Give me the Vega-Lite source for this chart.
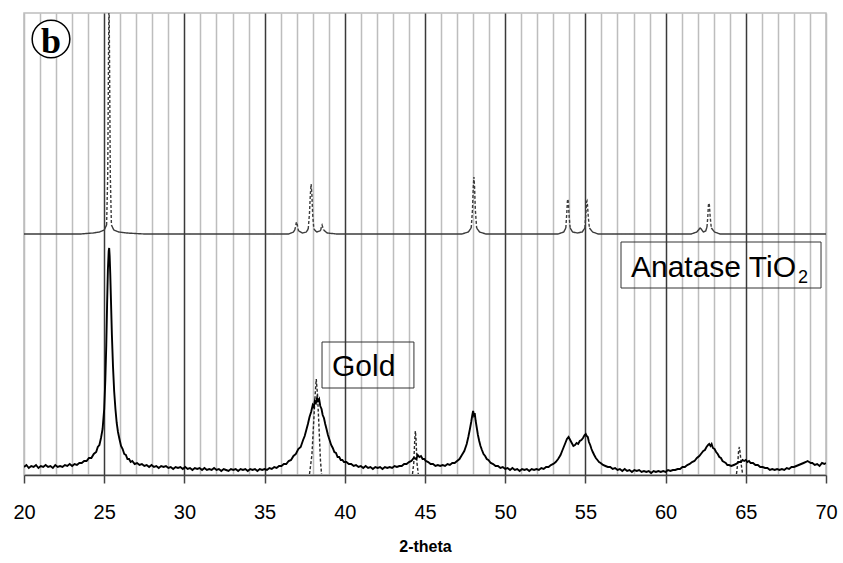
{
  "$schema": "https://vega.github.io/schema/vega-lite/v6.json",
  "width": 802,
  "height": 462,
  "autosize": {"type": "none"},
  "padding": {"left": 24, "top": 13, "right": 17, "bottom": 88},
  "background": "white",
  "config": {
    "view": {"stroke": "#bdbdbd", "strokeWidth": 1.5},
    "font": "Liberation Sans"
  },
  "datasets": {
    "sample": [
      {"t":20.0,"i":8},{"t":20.15,"i":10},{"t":20.3,"i":7},{"t":20.45,"i":9},{"t":20.6,"i":8},{"t":20.75,"i":10},{"t":20.9,"i":7},{"t":21.05,"i":9},{"t":21.2,"i":8},{"t":21.35,"i":10},{"t":21.5,"i":8},{"t":21.65,"i":9},{"t":21.8,"i":7},{"t":21.95,"i":10},{"t":22.1,"i":8},{"t":22.25,"i":9},{"t":22.4,"i":8},{"t":22.55,"i":10},{"t":22.7,"i":9},{"t":22.85,"i":11},{"t":23.0,"i":9},{"t":23.15,"i":11},{"t":23.3,"i":10},{"t":23.45,"i":12},{"t":23.6,"i":12},{"t":23.75,"i":14},{"t":23.9,"i":14},{"t":24.05,"i":17},{"t":24.2,"i":17},{"t":24.35,"i":21},{"t":24.5,"i":23},{"t":24.6,"i":28},{"t":24.7,"i":30},{"t":24.8,"i":37},{"t":24.9,"i":46},{"t":25.0,"i":66},{"t":25.07,"i":95},{"t":25.13,"i":130},{"t":25.18,"i":170},{"t":25.23,"i":205},{"t":25.28,"i":224},{"t":25.31,"i":227},{"t":25.34,"i":219},{"t":25.38,"i":200},{"t":25.43,"i":170},{"t":25.48,"i":140},{"t":25.55,"i":108},{"t":25.62,"i":84},{"t":25.7,"i":66},{"t":25.78,"i":52},{"t":25.86,"i":43},{"t":25.95,"i":36},{"t":26.05,"i":29},{"t":26.15,"i":26},{"t":26.25,"i":21},{"t":26.35,"i":20},{"t":26.45,"i":16},{"t":26.55,"i":16},{"t":26.65,"i":13},{"t":26.75,"i":14},{"t":26.9,"i":11},{"t":27.05,"i":12},{"t":27.2,"i":10},{"t":27.35,"i":11},{"t":27.5,"i":9},{"t":27.65,"i":10},{"t":27.8,"i":8},{"t":27.95,"i":10},{"t":28.1,"i":8},{"t":28.25,"i":9},{"t":28.4,"i":7},{"t":28.55,"i":9},{"t":28.7,"i":8},{"t":28.85,"i":9},{"t":29.0,"i":7},{"t":29.15,"i":8},{"t":29.3,"i":6},{"t":29.45,"i":8},{"t":29.6,"i":7},{"t":29.75,"i":8},{"t":29.9,"i":6},{"t":30.05,"i":8},{"t":30.2,"i":6},{"t":30.35,"i":7},{"t":30.5,"i":5},{"t":30.65,"i":7},{"t":30.8,"i":6},{"t":30.95,"i":7},{"t":31.1,"i":5},{"t":31.25,"i":7},{"t":31.4,"i":5},{"t":31.55,"i":6},{"t":31.7,"i":5},{"t":31.85,"i":7},{"t":32.0,"i":5},{"t":32.15,"i":6},{"t":32.3,"i":4},{"t":32.45,"i":6},{"t":32.6,"i":5},{"t":32.75,"i":4},{"t":32.9,"i":6},{"t":33.05,"i":5},{"t":33.2,"i":6},{"t":33.35,"i":4},{"t":33.5,"i":6},{"t":33.65,"i":5},{"t":33.8,"i":6},{"t":33.95,"i":4},{"t":34.1,"i":6},{"t":34.25,"i":5},{"t":34.4,"i":6},{"t":34.55,"i":4},{"t":34.7,"i":6},{"t":34.85,"i":5},{"t":35.0,"i":6},{"t":35.15,"i":5},{"t":35.3,"i":7},{"t":35.45,"i":6},{"t":35.6,"i":8},{"t":35.75,"i":7},{"t":35.9,"i":9},{"t":36.05,"i":9},{"t":36.2,"i":11},{"t":36.35,"i":11},{"t":36.5,"i":14},{"t":36.65,"i":15},{"t":36.8,"i":19},{"t":36.95,"i":21},{"t":37.1,"i":26},{"t":37.25,"i":28},{"t":37.4,"i":35},{"t":37.5,"i":39},{"t":37.6,"i":45},{"t":37.7,"i":51},{"t":37.8,"i":58},{"t":37.9,"i":63},{"t":38.0,"i":70},{"t":38.07,"i":68},{"t":38.13,"i":74},{"t":38.2,"i":72},{"t":38.27,"i":77},{"t":38.33,"i":74},{"t":38.4,"i":76},{"t":38.47,"i":69},{"t":38.55,"i":66},{"t":38.62,"i":60},{"t":38.7,"i":57},{"t":38.78,"i":51},{"t":38.86,"i":46},{"t":38.95,"i":40},{"t":39.05,"i":35},{"t":39.15,"i":30},{"t":39.25,"i":27},{"t":39.35,"i":23},{"t":39.45,"i":22},{"t":39.55,"i":18},{"t":39.65,"i":18},{"t":39.75,"i":15},{"t":39.85,"i":15},{"t":39.95,"i":13},{"t":40.1,"i":13},{"t":40.25,"i":11},{"t":40.4,"i":11},{"t":40.55,"i":9},{"t":40.7,"i":10},{"t":40.85,"i":8},{"t":41.0,"i":9},{"t":41.15,"i":7},{"t":41.3,"i":9},{"t":41.45,"i":7},{"t":41.6,"i":8},{"t":41.75,"i":6},{"t":41.9,"i":8},{"t":42.05,"i":7},{"t":42.2,"i":8},{"t":42.35,"i":6},{"t":42.5,"i":8},{"t":42.65,"i":7},{"t":42.8,"i":8},{"t":42.95,"i":7},{"t":43.1,"i":9},{"t":43.25,"i":8},{"t":43.4,"i":9},{"t":43.55,"i":9},{"t":43.7,"i":11},{"t":43.85,"i":11},{"t":44.0,"i":13},{"t":44.15,"i":14},{"t":44.3,"i":17},{"t":44.45,"i":16},{"t":44.55,"i":20},{"t":44.65,"i":18},{"t":44.75,"i":19},{"t":44.85,"i":16},{"t":44.95,"i":16},{"t":45.05,"i":14},{"t":45.2,"i":13},{"t":45.35,"i":11},{"t":45.5,"i":11},{"t":45.65,"i":9},{"t":45.8,"i":10},{"t":45.95,"i":9},{"t":46.1,"i":10},{"t":46.25,"i":9},{"t":46.4,"i":11},{"t":46.55,"i":10},{"t":46.7,"i":12},{"t":46.85,"i":12},{"t":47.0,"i":14},{"t":47.15,"i":16},{"t":47.3,"i":20},{"t":47.45,"i":24},{"t":47.6,"i":31},{"t":47.7,"i":38},{"t":47.8,"i":46},{"t":47.88,"i":53},{"t":47.95,"i":60},{"t":48.0,"i":64},{"t":48.05,"i":60},{"t":48.1,"i":62},{"t":48.16,"i":54},{"t":48.23,"i":47},{"t":48.3,"i":40},{"t":48.38,"i":34},{"t":48.46,"i":29},{"t":48.55,"i":25},{"t":48.65,"i":21},{"t":48.75,"i":19},{"t":48.85,"i":16},{"t":48.95,"i":15},{"t":49.1,"i":12},{"t":49.25,"i":11},{"t":49.4,"i":9},{"t":49.55,"i":9},{"t":49.7,"i":7},{"t":49.85,"i":8},{"t":50.0,"i":6},{"t":50.15,"i":7},{"t":50.3,"i":5},{"t":50.45,"i":7},{"t":50.6,"i":5},{"t":50.75,"i":6},{"t":50.9,"i":4},{"t":51.05,"i":6},{"t":51.2,"i":5},{"t":51.35,"i":6},{"t":51.5,"i":4},{"t":51.65,"i":6},{"t":51.8,"i":5},{"t":51.95,"i":6},{"t":52.1,"i":5},{"t":52.25,"i":7},{"t":52.4,"i":6},{"t":52.55,"i":8},{"t":52.7,"i":8},{"t":52.85,"i":10},{"t":53.0,"i":11},{"t":53.15,"i":13},{"t":53.3,"i":16},{"t":53.45,"i":20},{"t":53.55,"i":24},{"t":53.65,"i":28},{"t":53.75,"i":32},{"t":53.85,"i":36},{"t":53.95,"i":38},{"t":54.05,"i":35},{"t":54.15,"i":32},{"t":54.25,"i":29},{"t":54.35,"i":30},{"t":54.45,"i":32},{"t":54.55,"i":31},{"t":54.65,"i":34},{"t":54.75,"i":35},{"t":54.85,"i":37},{"t":54.95,"i":40},{"t":55.02,"i":41},{"t":55.08,"i":39},{"t":55.15,"i":38},{"t":55.22,"i":33},{"t":55.3,"i":30},{"t":55.38,"i":26},{"t":55.46,"i":23},{"t":55.55,"i":20},{"t":55.65,"i":17},{"t":55.75,"i":15},{"t":55.85,"i":13},{"t":55.95,"i":12},{"t":56.1,"i":10},{"t":56.25,"i":9},{"t":56.4,"i":8},{"t":56.55,"i":8},{"t":56.7,"i":6},{"t":56.85,"i":7},{"t":57.0,"i":5},{"t":57.15,"i":6},{"t":57.3,"i":4},{"t":57.45,"i":6},{"t":57.6,"i":4},{"t":57.75,"i":5},{"t":57.9,"i":3},{"t":58.05,"i":5},{"t":58.2,"i":4},{"t":58.35,"i":5},{"t":58.5,"i":3},{"t":58.65,"i":4},{"t":58.8,"i":3},{"t":58.95,"i":4},{"t":59.1,"i":2},{"t":59.25,"i":4},{"t":59.4,"i":3},{"t":59.55,"i":4},{"t":59.7,"i":3},{"t":59.85,"i":4},{"t":60.0,"i":3},{"t":60.15,"i":5},{"t":60.3,"i":4},{"t":60.45,"i":5},{"t":60.6,"i":5},{"t":60.75,"i":6},{"t":60.9,"i":6},{"t":61.05,"i":8},{"t":61.2,"i":8},{"t":61.35,"i":10},{"t":61.5,"i":11},{"t":61.65,"i":13},{"t":61.8,"i":14},{"t":61.95,"i":17},{"t":62.1,"i":19},{"t":62.25,"i":22},{"t":62.35,"i":24},{"t":62.45,"i":25},{"t":62.55,"i":28},{"t":62.65,"i":30},{"t":62.72,"i":31},{"t":62.8,"i":29},{"t":62.87,"i":31},{"t":62.95,"i":27},{"t":63.05,"i":26},{"t":63.15,"i":23},{"t":63.25,"i":21},{"t":63.35,"i":18},{"t":63.45,"i":17},{"t":63.55,"i":14},{"t":63.65,"i":13},{"t":63.75,"i":12},{"t":63.85,"i":10},{"t":63.95,"i":10},{"t":64.1,"i":9},{"t":64.25,"i":10},{"t":64.4,"i":11},{"t":64.55,"i":13},{"t":64.7,"i":13},{"t":64.8,"i":15},{"t":64.9,"i":14},{"t":65.0,"i":15},{"t":65.1,"i":13},{"t":65.2,"i":14},{"t":65.3,"i":12},{"t":65.45,"i":12},{"t":65.6,"i":10},{"t":65.75,"i":10},{"t":65.9,"i":8},{"t":66.05,"i":8},{"t":66.2,"i":7},{"t":66.35,"i":7},{"t":66.5,"i":5},{"t":66.65,"i":6},{"t":66.8,"i":5},{"t":66.95,"i":6},{"t":67.1,"i":5},{"t":67.25,"i":6},{"t":67.4,"i":5},{"t":67.55,"i":7},{"t":67.7,"i":6},{"t":67.85,"i":8},{"t":68.0,"i":8},{"t":68.15,"i":9},{"t":68.3,"i":10},{"t":68.45,"i":11},{"t":68.6,"i":12},{"t":68.75,"i":13},{"t":68.85,"i":14},{"t":68.95,"i":13},{"t":69.05,"i":12},{"t":69.15,"i":12},{"t":69.3,"i":10},{"t":69.45,"i":11},{"t":69.6,"i":9},{"t":69.75,"i":12},{"t":69.9,"i":11},{"t":70.0,"i":12}
    ],
    "reference": [
      {"tr":"anatase","k":"solid","s":"A0","t":20,"i":241},{"tr":"anatase","k":"solid","s":"A0","t":23.5,"i":241},{"tr":"anatase","k":"solid","s":"A0","t":24.3,"i":242},{"tr":"anatase","k":"solid","s":"A0","t":24.7,"i":243},{"tr":"anatase","k":"solid","s":"A0","t":25.0,"i":245},{"tr":"anatase","k":"solid","s":"A0","t":25.15,"i":250},
      {"tr":"anatase","k":"dash","s":"A1","t":25.15,"i":250},{"tr":"anatase","k":"dash","s":"A1","t":25.22,"i":300},{"tr":"anatase","k":"dash","s":"A1","t":25.27,"i":420},{"tr":"anatase","k":"dash","s":"A1","t":25.3,"i":480},{"tr":"anatase","k":"dash","s":"A1","t":25.33,"i":420},{"tr":"anatase","k":"dash","s":"A1","t":25.38,"i":300},{"tr":"anatase","k":"dash","s":"A1","t":25.45,"i":250},
      {"tr":"anatase","k":"solid","s":"A2","t":25.45,"i":250},{"tr":"anatase","k":"solid","s":"A2","t":25.6,"i":245},{"tr":"anatase","k":"solid","s":"A2","t":25.9,"i":243},{"tr":"anatase","k":"solid","s":"A2","t":26.4,"i":242},{"tr":"anatase","k":"solid","s":"A2","t":27.5,"i":241},{"tr":"anatase","k":"solid","s":"A2","t":36.5,"i":241},{"tr":"anatase","k":"solid","s":"A2","t":36.8,"i":243},{"tr":"anatase","k":"solid","s":"A2","t":36.88,"i":245},
      {"tr":"anatase","k":"dash","s":"A3","t":36.88,"i":245},{"tr":"anatase","k":"dash","s":"A3","t":36.94,"i":249},{"tr":"anatase","k":"dash","s":"A3","t":36.97,"i":252},{"tr":"anatase","k":"dash","s":"A3","t":37.0,"i":253},{"tr":"anatase","k":"dash","s":"A3","t":37.03,"i":251},{"tr":"anatase","k":"dash","s":"A3","t":37.07,"i":247},{"tr":"anatase","k":"dash","s":"A3","t":37.12,"i":244},
      {"tr":"anatase","k":"solid","s":"A4","t":37.12,"i":244},{"tr":"anatase","k":"solid","s":"A4","t":37.35,"i":242},{"tr":"anatase","k":"solid","s":"A4","t":37.6,"i":243},{"tr":"anatase","k":"solid","s":"A4","t":37.72,"i":246},
      {"tr":"anatase","k":"dash","s":"A5","t":37.72,"i":246},{"tr":"anatase","k":"dash","s":"A5","t":37.8,"i":262},{"tr":"anatase","k":"dash","s":"A5","t":37.85,"i":280},{"tr":"anatase","k":"dash","s":"A5","t":37.9,"i":291},{"tr":"anatase","k":"dash","s":"A5","t":37.95,"i":280},{"tr":"anatase","k":"dash","s":"A5","t":38.0,"i":260},{"tr":"anatase","k":"dash","s":"A5","t":38.07,"i":246},
      {"tr":"anatase","k":"solid","s":"A6","t":38.07,"i":246},{"tr":"anatase","k":"solid","s":"A6","t":38.25,"i":243},{"tr":"anatase","k":"solid","s":"A6","t":38.45,"i":244},{"tr":"anatase","k":"solid","s":"A6","t":38.5,"i":245},
      {"tr":"anatase","k":"dash","s":"A7","t":38.5,"i":245},{"tr":"anatase","k":"dash","s":"A7","t":38.55,"i":249},{"tr":"anatase","k":"dash","s":"A7","t":38.58,"i":250},{"tr":"anatase","k":"dash","s":"A7","t":38.62,"i":248},{"tr":"anatase","k":"dash","s":"A7","t":38.68,"i":245},
      {"tr":"anatase","k":"solid","s":"A8","t":38.68,"i":245},{"tr":"anatase","k":"solid","s":"A8","t":38.9,"i":242},{"tr":"anatase","k":"solid","s":"A8","t":39.5,"i":241},{"tr":"anatase","k":"solid","s":"A8","t":47.3,"i":241},{"tr":"anatase","k":"solid","s":"A8","t":47.7,"i":243},{"tr":"anatase","k":"solid","s":"A8","t":47.88,"i":247},
      {"tr":"anatase","k":"dash","s":"A9","t":47.88,"i":247},{"tr":"anatase","k":"dash","s":"A9","t":47.96,"i":265},{"tr":"anatase","k":"dash","s":"A9","t":48.01,"i":288},{"tr":"anatase","k":"dash","s":"A9","t":48.05,"i":298},{"tr":"anatase","k":"dash","s":"A9","t":48.09,"i":288},{"tr":"anatase","k":"dash","s":"A9","t":48.14,"i":265},{"tr":"anatase","k":"dash","s":"A9","t":48.22,"i":247},
      {"tr":"anatase","k":"solid","s":"A10","t":48.22,"i":247},{"tr":"anatase","k":"solid","s":"A10","t":48.4,"i":243},{"tr":"anatase","k":"solid","s":"A10","t":48.8,"i":241},{"tr":"anatase","k":"solid","s":"A10","t":53.3,"i":241},{"tr":"anatase","k":"solid","s":"A10","t":53.65,"i":243},{"tr":"anatase","k":"solid","s":"A10","t":53.78,"i":247},
      {"tr":"anatase","k":"dash","s":"A11","t":53.78,"i":247},{"tr":"anatase","k":"dash","s":"A11","t":53.84,"i":262},{"tr":"anatase","k":"dash","s":"A11","t":53.88,"i":274},{"tr":"anatase","k":"dash","s":"A11","t":53.91,"i":276},{"tr":"anatase","k":"dash","s":"A11","t":53.94,"i":272},{"tr":"anatase","k":"dash","s":"A11","t":53.99,"i":258},{"tr":"anatase","k":"dash","s":"A11","t":54.05,"i":247},
      {"tr":"anatase","k":"solid","s":"A12","t":54.05,"i":247},{"tr":"anatase","k":"solid","s":"A12","t":54.2,"i":243},{"tr":"anatase","k":"solid","s":"A12","t":54.5,"i":242},{"tr":"anatase","k":"solid","s":"A12","t":54.8,"i":243},{"tr":"anatase","k":"solid","s":"A12","t":54.97,"i":247},
      {"tr":"anatase","k":"dash","s":"A13","t":54.97,"i":247},{"tr":"anatase","k":"dash","s":"A13","t":55.03,"i":262},{"tr":"anatase","k":"dash","s":"A13","t":55.07,"i":273},{"tr":"anatase","k":"dash","s":"A13","t":55.1,"i":274},{"tr":"anatase","k":"dash","s":"A13","t":55.13,"i":270},{"tr":"anatase","k":"dash","s":"A13","t":55.18,"i":258},{"tr":"anatase","k":"dash","s":"A13","t":55.25,"i":247},
      {"tr":"anatase","k":"solid","s":"A14","t":55.25,"i":247},{"tr":"anatase","k":"solid","s":"A14","t":55.45,"i":243},{"tr":"anatase","k":"solid","s":"A14","t":55.8,"i":241},{"tr":"anatase","k":"solid","s":"A14","t":61.6,"i":241},{"tr":"anatase","k":"solid","s":"A14","t":61.95,"i":243},{"tr":"anatase","k":"solid","s":"A14","t":62.1,"i":246},{"tr":"anatase","k":"solid","s":"A14","t":62.15,"i":247},{"tr":"anatase","k":"solid","s":"A14","t":62.22,"i":246},{"tr":"anatase","k":"solid","s":"A14","t":62.35,"i":243},{"tr":"anatase","k":"solid","s":"A14","t":62.5,"i":244},{"tr":"anatase","k":"solid","s":"A14","t":62.58,"i":248},
      {"tr":"anatase","k":"dash","s":"A15","t":62.58,"i":248},{"tr":"anatase","k":"dash","s":"A15","t":62.63,"i":258},{"tr":"anatase","k":"dash","s":"A15","t":62.67,"i":270},{"tr":"anatase","k":"dash","s":"A15","t":62.7,"i":272},{"tr":"anatase","k":"dash","s":"A15","t":62.73,"i":270},{"tr":"anatase","k":"dash","s":"A15","t":62.78,"i":258},{"tr":"anatase","k":"dash","s":"A15","t":62.85,"i":247},
      {"tr":"anatase","k":"solid","s":"A16","t":62.85,"i":247},{"tr":"anatase","k":"solid","s":"A16","t":63.05,"i":243},{"tr":"anatase","k":"solid","s":"A16","t":63.4,"i":241},{"tr":"anatase","k":"solid","s":"A16","t":70,"i":241},
      {"tr":"gold","k":"dash","s":"G1","t":37.8,"i":1},{"tr":"gold","k":"dash","s":"G1","t":37.95,"i":20},{"tr":"gold","k":"dash","s":"G1","t":38.05,"i":50},{"tr":"gold","k":"dash","s":"G1","t":38.15,"i":80},{"tr":"gold","k":"dash","s":"G1","t":38.22,"i":96},{"tr":"gold","k":"dash","s":"G1","t":38.3,"i":80},{"tr":"gold","k":"dash","s":"G1","t":38.4,"i":45},{"tr":"gold","k":"dash","s":"G1","t":38.48,"i":15},{"tr":"gold","k":"dash","s":"G1","t":38.55,"i":1},
      {"tr":"gold","k":"dash","s":"G2","t":44.22,"i":1},{"tr":"gold","k":"dash","s":"G2","t":44.3,"i":12},{"tr":"gold","k":"dash","s":"G2","t":44.36,"i":35},{"tr":"gold","k":"dash","s":"G2","t":44.4,"i":44},{"tr":"gold","k":"dash","s":"G2","t":44.44,"i":36},{"tr":"gold","k":"dash","s":"G2","t":44.5,"i":12},{"tr":"gold","k":"dash","s":"G2","t":44.58,"i":1},
      {"tr":"gold","k":"dash","s":"G3","t":64.42,"i":1},{"tr":"gold","k":"dash","s":"G3","t":64.5,"i":12},{"tr":"gold","k":"dash","s":"G3","t":64.55,"i":24},{"tr":"gold","k":"dash","s":"G3","t":64.6,"i":28},{"tr":"gold","k":"dash","s":"G3","t":64.65,"i":22},{"tr":"gold","k":"dash","s":"G3","t":64.72,"i":10},{"tr":"gold","k":"dash","s":"G3","t":64.8,"i":1}
    ]
  },
  "encoding": {
    "x": {
      "field": "t",
      "type": "quantitative",
      "scale": {"domain": [20, 70], "nice": false, "zero": false},
      "axis": {
        "title": "2-theta",
        "titleFont": "Liberation Sans",
        "titleFontSize": 16,
        "titleFontWeight": "bold",
        "titleColor": "#000",
        "titlePadding": 16,
        "values": [20,21,22,23,24,25,26,27,28,29,30,31,32,33,34,35,36,37,38,39,40,41,42,43,44,45,46,47,48,49,50,51,52,53,54,55,56,57,58,59,60,61,62,63,64,65,66,67,68,69,70],
        "labelExpr": "datum.value % 5 === 0 ? datum.label : ''",
        "labelFont": "Liberation Sans",
        "labelFontSize": 20,
        "labelColor": "#000",
        "labelPadding": 19,
        "labelOverlap": false,
        "labelFlush": false,
        "labelBound": false,
        "tickSize": 8,
        "tickColor": "#444",
        "tickWidth": 1.5,
        "tickOpacity": {"condition": {"test": "datum.value % 5 !== 0", "value": 0}, "value": 1},
        "grid": true,
        "gridColor": {"condition": {"test": "datum.value % 5 === 0 && datum.value > 20 && datum.value < 70", "value": "#3a3a3a"}, "value": "#bdbdbd"},
        "gridWidth": 1.5,
        "gridOpacity": 1,
        "domainColor": "#444",
        "domainWidth": 1.5
      }
    },
    "y": {
      "field": "i",
      "type": "quantitative",
      "scale": {"domain": [0, 462], "nice": false, "zero": false},
      "axis": null
    }
  },
  "layer": [
    {
      "data": {"values": [
        {"t": 38.58, "t2": 44.31, "i": 87, "i2": 133},
        {"t": 57.22, "t2": 69.69, "i": 187, "i2": 233}
      ]},
      "mark": {"type": "rect", "fill": null, "fillOpacity": 0, "stroke": "#333", "strokeWidth": 1},
      "encoding": {
        "x2": {"field": "t2"},
        "y2": {"field": "i2"}
      }
    },
    {
      "data": {"name": "reference"},
      "mark": {"type": "line", "clip": true, "strokeWidth": 1.4},
      "encoding": {
        "detail": {"field": "s"},
        "color": {"field": "tr", "type": "nominal", "scale": {"domain": ["anatase", "gold"], "range": ["#3c3c3c", "#2a2a2a"]}, "legend": null},
        "strokeDash": {"field": "k", "type": "nominal", "scale": {"domain": ["solid", "dash"], "range": [[1, 0], [3, 2]]}, "legend": null}
      }
    },
    {
      "data": {"name": "sample"},
      "mark": {"type": "line", "clip": true, "color": "#000", "strokeWidth": 1.9},
      "encoding": {}
    },
    {
      "data": {"values": [{"t": 21.683, "i": 436}]},
      "mark": {"type": "point", "shape": "circle", "size": 1420, "filled": true, "fill": "white", "stroke": "#000", "strokeWidth": 1.5, "opacity": 1}
    },
    {
      "data": {"values": [{"t": 21.683, "i": 422, "txt": "b"}]},
      "mark": {"type": "text", "font": "Liberation Serif", "fontWeight": "bold", "fontSize": 36, "align": "center", "baseline": "alphabetic", "color": "#000"},
      "encoding": {"text": {"field": "txt"}}
    },
    {
      "data": {"values": [
        {"t": 39.2, "i": 99, "txt": "Gold"},
        {"t": 57.84, "i": 198, "txt": "Anatase TiO"}
      ]},
      "mark": {"type": "text", "font": "Liberation Sans", "fontSize": 30, "align": "left", "baseline": "alphabetic", "color": "#000"},
      "encoding": {"text": {"field": "txt"}}
    },
    {
      "data": {"values": [{"t": 68.25, "i": 192, "txt": "2"}]},
      "mark": {"type": "text", "font": "Liberation Sans", "fontSize": 18, "align": "left", "baseline": "alphabetic", "color": "#000"},
      "encoding": {"text": {"field": "txt"}}
    }
  ]
}
